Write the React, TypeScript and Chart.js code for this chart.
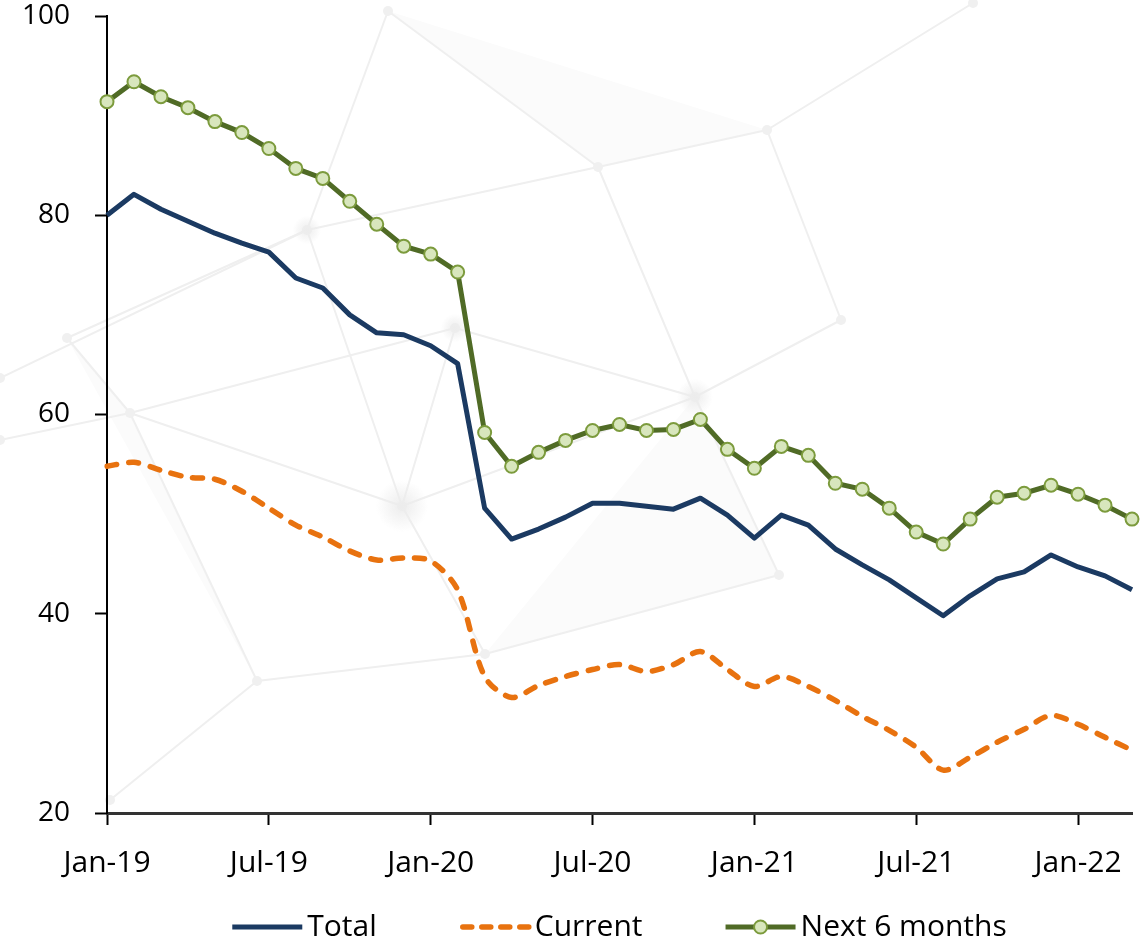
import React, { useEffect, useRef } from "react";
import { Chart, registerables } from "chart.js";

Chart.register(...registerables);

const months = ["Jan", "Feb", "Mar", "Apr", "May", "Jun", "Jul", "Aug", "Sep", "Oct", "Nov", "Dec"];
const categories: string[] = [];
for (let y = 19; y <= 22; y++) {
  for (let m = 0; m < 12; m++) {
    if (y === 22 && m > 2) break;
    categories.push(`${months[m]}-${y}`);
  }
}

const totalValues = [
  80.0, 82.1, 80.6, 79.4, 78.2, 77.2, 76.3, 73.7, 72.7, 70.0, 68.2, 68.0,
  66.9, 65.1, 50.6, 47.5, 48.5, 49.7, 51.1, 51.1, 50.8, 50.5, 51.6, 49.9,
  47.6, 49.9, 48.9, 46.5, 44.9, 43.4, 41.6, 39.8, 41.8, 43.5, 44.2, 45.9,
  44.7, 43.8, 42.4,
];
const currentValues = [
  54.8, 55.2, 54.4, 53.7, 53.5, 52.3, 50.6, 48.9, 47.7, 46.3, 45.4, 45.6,
  45.3, 42.4, 33.7, 31.6, 32.8, 33.7, 34.4, 34.9, 34.2, 34.9, 36.2, 34.4,
  32.7, 33.7, 32.7, 31.3, 29.7, 28.3, 26.6, 24.3, 25.6, 27.1, 28.4, 29.8,
  28.9, 27.6, 26.3,
];
const nextValues = [
  91.4, 93.4, 91.9, 90.8, 89.4, 88.3, 86.7, 84.7, 83.7, 81.4, 79.1, 76.9,
  76.1, 74.3, 58.2, 54.8, 56.2, 57.4, 58.4, 59.0, 58.4, 58.5, 59.5, 56.5,
  54.6, 56.8, 55.9, 53.1, 52.5, 50.6, 48.2, 47.0, 49.5, 51.7, 52.1, 52.9,
  52.0, 50.9, 49.5,
];
const yTicks = [20, 40, 60, 80, 100];

const FONT = '"Open Sans", "Noto Sans", sans-serif';

// Decorative faint background network (not data)
const decoNodes: [number, number][] = [
  [388, 11], [973, 3], [598, 167], [767, 130], [841, 320], [695, 397],
  [307, 230], [455, 328], [402, 506], [67, 338], [130, 413], [257, 681],
  [485, 654], [779, 575], [110, 800], [0, 378], [0, 440],
];
const decoLinks: [number, number][] = [
  [0, 2], [2, 3], [3, 1], [3, 4], [2, 5], [4, 5], [6, 2], [6, 8], [5, 7],
  [7, 10], [10, 8], [9, 10], [10, 11], [11, 12], [12, 13], [8, 12], [8, 5],
  [5, 13], [15, 6], [9, 6], [16, 10], [11, 14], [0, 6], [7, 8],
];
const decoTriangles: [number, number, number][] = [
  [0, 2, 3], [10, 11, 9], [12, 5, 13],
];
const decoBlobs: [number, number, number][] = [
  [695, 397, 18], [307, 230, 14], [455, 328, 14], [402, 506, 26],
];

const backgroundPlugin = {
  id: "bgNetwork",
  beforeDraw(chart: any) {
    const ctx = chart.ctx as CanvasRenderingContext2D;
    ctx.save();
    ctx.fillStyle = "#fbfbfb";
    for (const t of decoTriangles) {
      ctx.beginPath();
      ctx.moveTo(decoNodes[t[0]][0], decoNodes[t[0]][1]);
      ctx.lineTo(decoNodes[t[1]][0], decoNodes[t[1]][1]);
      ctx.lineTo(decoNodes[t[2]][0], decoNodes[t[2]][1]);
      ctx.closePath();
      ctx.fill();
    }
    ctx.strokeStyle = "#efefef";
    ctx.lineWidth = 2;
    for (const l of decoLinks) {
      ctx.beginPath();
      ctx.moveTo(decoNodes[l[0]][0], decoNodes[l[0]][1]);
      ctx.lineTo(decoNodes[l[1]][0], decoNodes[l[1]][1]);
      ctx.stroke();
    }
    ctx.fillStyle = "#f0f0f0";
    for (const n of decoNodes) {
      ctx.beginPath();
      ctx.arc(n[0], n[1], 5, 0, Math.PI * 2);
      ctx.fill();
    }
    for (const b of decoBlobs) {
      const g = ctx.createRadialGradient(b[0], b[1], 0, b[0], b[1], b[2]);
      g.addColorStop(0, "rgba(236,236,236,1)");
      g.addColorStop(1, "rgba(236,236,236,0)");
      ctx.fillStyle = g;
      ctx.beginPath();
      ctx.arc(b[0], b[1], b[2], 0, Math.PI * 2);
      ctx.fill();
    }
    ctx.restore();
  },
};

// y-axis tick labels, right-aligned a fixed distance left of the axis
const yLabelPlugin = {
  id: "yLabels",
  afterDraw(chart: any) {
    const ctx = chart.ctx as CanvasRenderingContext2D;
    const ys = chart.scales.y;
    ctx.save();
    ctx.font = `28px ${FONT}`;
    ctx.fillStyle = "#000";
    ctx.textAlign = "right";
    ctx.textBaseline = "middle";
    for (const v of yTicks) {
      ctx.fillText(String(v), ys.right - 12 - 25, ys.getPixelForValue(v));
    }
    ctx.restore();
  },
};

const legendPlugin = {
  id: "customLegend",
  afterDraw(chart: any) {
    const ctx = chart.ctx as CanvasRenderingContext2D;
    const ca = chart.chartArea;
    ctx.save();
    ctx.font = `30px ${FONT}`;
    const box = 70;
    const gap = 5;
    const spacing = 83;
    const items = chart.data.datasets.map((ds: any) => ({ ds, w: ctx.measureText(ds.label).width }));
    const total =
      items.reduce((s: number, it: any) => s + box + gap + it.w, 0) + spacing * (items.length - 1);
    let x = (ca.left + ca.right) / 2 - total / 2;
    const y = chart.height - 12;
    for (const it of items) {
      const ds = it.ds;
      ctx.save();
      ctx.strokeStyle = ds.borderColor;
      ctx.lineWidth = ds.borderWidth;
      const dashed = ds.borderDash && ds.borderDash.length;
      ctx.lineCap = dashed ? "round" : "butt";
      ctx.setLineDash(dashed ? [9, 10] : []);
      ctx.beginPath();
      ctx.moveTo(x + (dashed ? 3 : 0), y);
      ctx.lineTo(x + box, y);
      ctx.stroke();
      ctx.setLineDash([]);
      if (ds.pointRadius > 0) {
        ctx.beginPath();
        ctx.arc(x + box / 2, y, ds.pointRadius, 0, Math.PI * 2);
        ctx.fillStyle = ds.pointBackgroundColor;
        ctx.fill();
        ctx.lineWidth = ds.pointBorderWidth;
        ctx.strokeStyle = ds.pointBorderColor;
        ctx.stroke();
      }
      ctx.restore();
      ctx.fillStyle = "#000";
      ctx.textBaseline = "middle";
      ctx.textAlign = "left";
      ctx.fillText(ds.label, x + box + gap, y);
      x += box + gap + it.w + spacing;
    }
    ctx.restore();
  },
};

export default function App() {
  const ref = useRef<HTMLCanvasElement | null>(null);
  useEffect(() => {
    if (!ref.current) return;
    const chart = new Chart(ref.current, {
      type: "line",
      data: {
        labels: categories,
        datasets: [
          {
            label: "Total",
            data: totalValues,
            borderColor: "#1b3a62",
            borderWidth: 5,
            pointRadius: 0,
            tension: 0,
            borderJoinStyle: "round",
          } as any,
          {
            label: "Current",
            data: currentValues,
            borderColor: "#e8720f",
            borderWidth: 5.5,
            borderDash: [10, 12],
            borderCapStyle: "round",
            pointRadius: 0,
            tension: 0.3,
          } as any,
          {
            label: "Next 6 months",
            data: nextValues,
            borderColor: "#506b26",
            borderWidth: 5,
            pointRadius: 6.5,
            pointBackgroundColor: "#d8e6bd",
            pointBorderColor: "#7c9b3d",
            pointBorderWidth: 2,
            tension: 0,
          } as any,
        ],
      },
      options: {
        animation: false,
        responsive: true,
        maintainAspectRatio: false,
        layout: { padding: { top: 16, right: 15, left: 0, bottom: 56 } },
        plugins: { legend: { display: false }, tooltip: { enabled: false } },
        scales: {
          x: {
            type: "category",
            offset: false,
            afterFit: (s: any) => {
              s.height = 70;
              s.paddingLeft = 0;
              s.paddingRight = 0;
            },
            grid: {
              drawOnChartArea: false,
              drawTicks: true,
              tickLength: 12,
              tickWidth: 2,
              tickColor: "#000",
            },
            border: { display: true, color: "#333", width: 3 },
            ticks: {
              autoSkip: false,
              maxRotation: 0,
              padding: 20,
              color: "#000",
              font: { family: FONT, size: 30 },
              callback: (_v: any, i: number) => (i % 6 === 0 ? categories[i] : null),
            },
          },
          y: {
            min: 20,
            max: 100,
            afterFit: (s: any) => {
              s.width = 107;
              s.paddingTop = 0;
              s.paddingBottom = 0;
            },
            afterBuildTicks: (s: any) => {
              s.ticks = yTicks.map((v) => ({ value: v }));
            },
            grid: {
              drawOnChartArea: false,
              drawTicks: true,
              tickLength: 12,
              tickWidth: 2,
              tickColor: "#000",
            },
            border: { display: true, color: "#000", width: 2 },
            ticks: {
              color: "rgba(0,0,0,0)",
              font: { family: FONT, size: 28 },
            },
          },
        },
      },
      plugins: [backgroundPlugin, yLabelPlugin, legendPlugin],
    });
    return () => chart.destroy();
  }, []);
  return (
    <div style={{ position: "absolute", left: 0, top: 0, width: 1147, height: 939, background: "#fff" }}>
      <canvas ref={ref} />
    </div>
  );
}
